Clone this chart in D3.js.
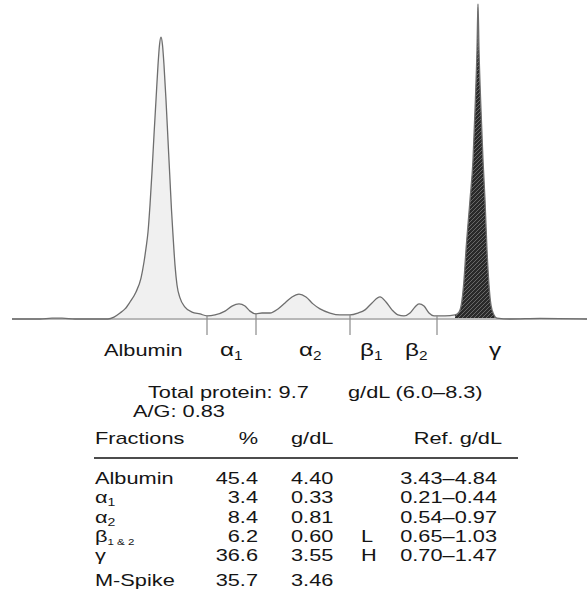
<!DOCTYPE html>
<html>
<head>
<meta charset="utf-8">
<script src="https://cdn.jsdelivr.net/npm/d3@7"></script>
<style>
  body { margin: 0; background: #fff; }
  svg { display: block; font-family: "Liberation Sans", Arial, Helvetica, sans-serif; }
</style>
</head>
<body>
<svg id="chart" width="587" height="599"></svg>
<script>
// densitometer trace: mobility (arbitrary units) and relative absorbance (gamma peak = 100)
var traceMobility = [0, 28, 40, 50, 63, 96, 102, 108, 113, 118, 124, 129, 132, 134, 136, 138, 140, 142, 144, 146, 147.5, 149,
    150.5, 152, 154, 156, 158, 159.5, 161, 163, 165, 168, 173, 180, 188, 195, 203, 213, 220, 227, 233, 238, 244, 250, 258,
    266, 273, 280, 287, 294, 301, 308, 318, 328, 338, 346, 353, 360, 368, 374, 380, 386, 392, 398, 403, 407, 412, 417, 422,
    433, 443, 447, 450, 452, 454, 458, 461, 463, 465, 466, 467, 469, 471, 473, 475, 477, 479, 482, 485, 498, 528, 575];
var traceAbsorb = [0, 0, 0.3, 0.3, 0, 0, 0.6, 1.9, 3.2, 5.4, 8.6, 13.0, 18.1, 22.5, 27.6, 36.2, 46.7, 58.4, 69.5, 80.6, 87.0, 89.5,
    87.0, 80.6, 69.5, 56.8, 44.1, 34.6, 26.7, 17.1, 10.8, 6.7, 3.8, 2.2, 1.6, 1.0, 1.3, 2.5, 4.1, 4.8, 4.1, 2.5, 1.6, 1.9, 1.9,
    3.2, 5.1, 7.0, 7.9, 7.0, 4.8, 3.2, 1.9, 1.3, 1.3, 1.9, 2.9, 5.1, 7.0, 5.4, 2.9, 1.3, 1.0, 1.9, 3.8, 4.8, 4.1, 1.9, 1.0,
    1.0, 1.3, 2.2, 6.0, 12.4, 21.9, 37.8, 50.5, 66.3, 85.4, 100, 85.4, 66.3, 50.5, 37.8, 21.9, 10.8, 4.4, 1.3, 0.3, 0, 0.2, 0];

// fraction cut points and the shaded gamma band
var fractionCuts = [195, 244, 338, 425];
var gammaBand = [443, 490];

var peakLabels = ["Albumin", "α", "α", "β", "β", "γ"];
var peakSubs = ["", "1", "2", "1", "2", ""];
var peakLabelPos = [92, 208, 287, 348, 393, 477];

// report table
var fractionNames = ["Albumin", "α", "α", "β", "γ"];
var fractionSubs = ["", "1", "2", "1 & 2", ""];
var fractionPct = ["45.4", "3.4", "8.4", "6.2", "36.6"];
var fractionGdl = ["4.40", "0.33", "0.81", "0.60", "3.55"];
var fractionFlag = ["", "", "", "L", "H"];
var fractionRef = ["3.43–4.84", "0.21–0.44", "0.54–0.97", "0.65–1.03", "0.70–1.47"];
var mSpike = ["M-Spike", "35.7", "3.46"];

var svg = d3.select("#chart");
var SX = 1.28;   // type in the scan is stretched sideways

var x = d3.scaleLinear().domain([0, 575]).range([12, 587]);
var y = d3.scaleLinear().domain([0, 100]).range([319, 4]);

var trace = traceMobility.map(function(d, i) { return { m: d, a: traceAbsorb[i] }; });

var defs = svg.append("defs");
var pat = defs.append("pattern")
    .attr("id", "hatch")
    .attr("patternUnits", "userSpaceOnUse")
    .attr("width", 4)
    .attr("height", 4);
pat.append("rect").attr("width", 4).attr("height", 4).attr("fill", "#2a2a2a");
pat.append("path").attr("d", "M-1,1 l2,-2 M0,4 l4,-4 M3,5 l2,-2")
    .attr("stroke", "#707070").attr("stroke-width", 0.9);

defs.append("clipPath").attr("id", "gclip")
    .append("rect")
    .attr("x", x(gammaBand[0])).attr("y", 0)
    .attr("width", x(gammaBand[1]) - x(gammaBand[0])).attr("height", 330);

var area = d3.area()
    .x(function(d) { return x(d.m); })
    .y0(y(0))
    .y1(function(d) { return y(d.a); })
    .curve(d3.curveMonotoneX);

var line = d3.line()
    .x(function(d) { return x(d.m); })
    .y(function(d) { return y(d.a); })
    .curve(d3.curveMonotoneX);

// light fill under the whole trace, hatched dark fill for gamma
svg.append("path").datum(trace).attr("d", area).attr("fill", "#f0f0f0");
svg.append("path").datum(trace).attr("d", area).attr("fill", "url(#hatch)").attr("clip-path", "url(#gclip)");

// baseline
svg.append("line")
    .attr("x1", x(0)).attr("x2", x(575))
    .attr("y1", y(0)).attr("y2", y(0))
    .attr("stroke", "#b8b8b8").attr("stroke-width", 2);

svg.append("path").datum(trace).attr("d", line)
    .attr("fill", "none").attr("stroke", "#6e6e6e").attr("stroke-width", 1.3);

// cut marks from the trace down below the baseline
var absAt = d3.scaleLinear().domain(traceMobility).range(traceAbsorb);
svg.selectAll(".cut")
    .data(fractionCuts)
    .enter()
    .append("line")
    .attr("class", "cut")
    .attr("x1", function(d) { return x(d); })
    .attr("x2", function(d) { return x(d); })
    .attr("y1", function(d) { return y(absAt(d)); })
    .attr("y2", y(0) + 16)
    .attr("stroke", "#8a8a8a").attr("stroke-width", 1.2);

function stretchedText(sel, px, py, anchor) {
    return sel.append("text")
        .attr("transform", "translate(" + px + "," + py + ") scale(" + SX + ",1)")
        .attr("text-anchor", anchor || "start")
        .attr("fill", "#151515")
        .attr("font-size", 17);
}

function labelWithSub(t, main, sub, mainSize, subSize, drop) {
    var m = t.append("tspan").text(main);
    if (mainSize) m.attr("font-size", mainSize);
    if (sub) t.append("tspan").attr("dy", drop).attr("font-size", subSize).text(sub);
}

// peak labels, greek set a bit larger
peakLabels.forEach(function(d, i) {
    var t = stretchedText(svg, x(peakLabelPos[i]), 356);
    labelWithSub(t, d, peakSubs[i], d.length === 1 ? 19 : null, 12, 4);
});

// summary lines
stretchedText(svg, 148, 398).text("Total protein: 9.7");
stretchedText(svg, 348, 398).text("g/dL (6.0–8.3)");
stretchedText(svg, 133, 417).text("A/G: 0.83");

// table header
var hy = 444;
stretchedText(svg, 95, hy).text("Fractions");
stretchedText(svg, 258, hy, "end").text("%");
stretchedText(svg, 291, hy).text("g/dL");
stretchedText(svg, 502, hy, "end").text("Ref. g/dL");

svg.append("line")
    .attr("x1", 94).attr("x2", 518)
    .attr("y1", 458).attr("y2", 458)
    .attr("stroke", "#111").attr("stroke-width", 1.4);

var rowY = d3.scalePoint().domain(d3.range(fractionNames.length)).range([484, 561]);

fractionNames.forEach(function(d, i) {
    var ry = rowY(i);
    var t = stretchedText(svg, 95, ry);
    labelWithSub(t, d, fractionSubs[i], null, i === 3 ? 9 : 11, 3);
    stretchedText(svg, 258, ry, "end").text(fractionPct[i]);
    stretchedText(svg, 291, ry).text(fractionGdl[i]);
    if (fractionFlag[i]) stretchedText(svg, 361, ry).text(fractionFlag[i]);
    stretchedText(svg, 497, ry, "end").text(fractionRef[i]);
});

stretchedText(svg, 95, 586).text(mSpike[0]);
stretchedText(svg, 258, 586, "end").text(mSpike[1]);
stretchedText(svg, 291, 586).text(mSpike[2]);
</script>
</body>
</html>
